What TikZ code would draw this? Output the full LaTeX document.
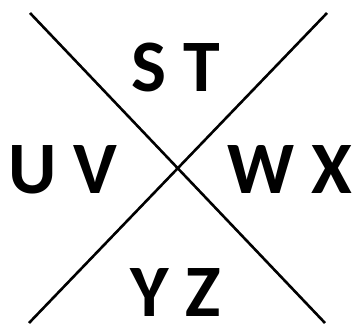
\documentclass[tikz,border=0pt]{standalone}
\usepackage{fontspec}
\setmainfont{Carlito}
\begin{document}
\begin{tikzpicture}[x=1pt,y=-1pt,
  lbl/.style={inner sep=0pt,anchor=base,font=\bfseries\fontsize{74}{74}\selectfont},
  xline/.style={line width=2.6pt,black}]
\useasboundingbox (0,0) rectangle (352,323);
\coordinate (tl) at (30,13);
\coordinate (br) at (325,323);
\coordinate (tr) at (327,13);
\coordinate (bl) at (29,323);
\draw[xline] (tl) -- (br);
\draw[xline] (tr) -- (bl);
\node[lbl] (st) at (175.5,92) {S T};
\node[lbl] (uv) at (62.5,193) {U V};
\node[lbl] (wx) at (290,193) {W X};
\node[lbl] (yz) at (175.5,316) {Y Z};
\end{tikzpicture}
\end{document}
